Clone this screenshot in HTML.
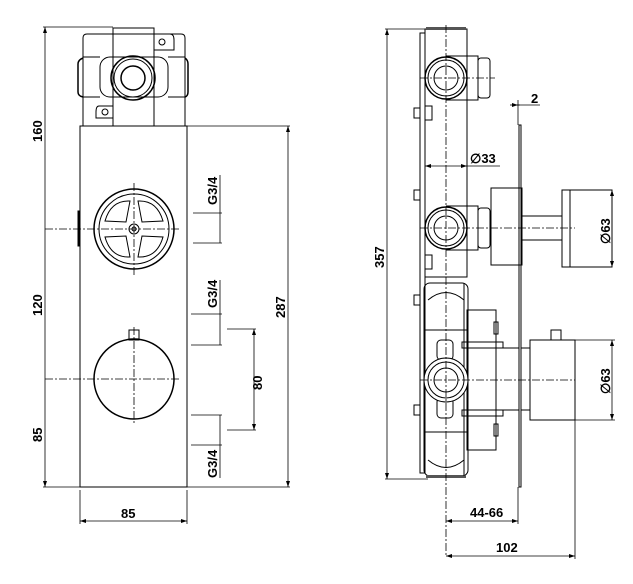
<!DOCTYPE html>
<html><head><style>html,body{margin:0;padding:0;background:#fff;}svg{display:block}</style></head>
<body>
<svg width="633" height="584" viewBox="0 0 633 584" xmlns="http://www.w3.org/2000/svg" font-family="Liberation Sans, sans-serif" font-weight="bold" font-size="13">
<g fill="none" stroke="#000" stroke-width="1">
<!-- LEFT VIEW -->
<rect x="80" y="126" width="107" height="361"/>
<path d="M83 126 V38 Q83 34 87 34 H181 Q185 34 185 38 V126"/>
<rect x="113" y="28" width="41" height="98"/>
<rect x="100" y="57" width="68" height="40" rx="10"/>
<path d="M83 58 Q78 60 78 64 V92 Q78 96 83 97" stroke-width="1.5"/>
<path d="M185 58 Q188 60 188 64 V92 Q188 96 185 97" stroke-width="1.5"/>
<line x1="83" y1="57" x2="100" y2="57"/><line x1="83" y1="97" x2="100" y2="97"/>
<line x1="168" y1="57" x2="185" y2="57"/><line x1="168" y1="97" x2="185" y2="97"/>
<circle cx="133" cy="78" r="22" stroke-width="1.5"/>
<circle cx="133" cy="78" r="19"/>
<circle cx="133" cy="78" r="12" stroke-width="1.5"/>
<path d="M154 34 H170 Q174 34 174 40 V50 H154"/><circle cx="162" cy="42" r="3"/>
<path d="M113 106 H99 Q96 106 96 112 V118 H113"/><circle cx="105" cy="112" r="3"/>
<!-- wheel -->
<circle cx="134" cy="229" r="40" stroke-width="1.5"/>
<circle cx="134" cy="229" r="35"/>
<circle cx="134" cy="229" r="5"/><circle cx="134" cy="229" r="2"/>
<path d="M138 201 Q157 200 163 221 L142 222 Z"/>
<path d="M130 201 Q111 200 105 221 L126 222 Z"/>
<path d="M138 257 Q157 258 163 237 L142 236 Z"/>
<path d="M130 257 Q111 258 105 237 L126 236 Z"/>
<rect x="78" y="211" width="2" height="35" fill="#000"/>
<circle cx="134" cy="379" r="40" stroke-width="1.5"/>
<rect x="129" y="330" width="10" height="10"/>
<g stroke-dasharray="8,2,2,2" stroke-width="0.8">
<line x1="45" y1="229" x2="180" y2="229"/><line x1="134" y1="183" x2="134" y2="275"/>
<line x1="45" y1="379" x2="180" y2="379"/><line x1="134" y1="327" x2="134" y2="425"/>
</g>
<g stroke-width="0.8">
<line x1="45" y1="27" x2="45" y2="487"/><line x1="43" y1="27" x2="113" y2="27"/>
<line x1="43" y1="487" x2="80" y2="487"/><line x1="187" y1="487" x2="290" y2="487"/>
<line x1="187" y1="126" x2="290" y2="126"/><line x1="288" y1="126" x2="288" y2="487"/>
<line x1="193" y1="213" x2="222" y2="213"/><line x1="193" y1="243" x2="222" y2="243"/><line x1="220" y1="175" x2="220" y2="243"/>
<line x1="191" y1="314" x2="222" y2="314"/><line x1="191" y1="345" x2="222" y2="345"/><line x1="220" y1="280" x2="220" y2="345"/>
<line x1="191" y1="415" x2="222" y2="415"/><line x1="191" y1="445" x2="222" y2="445"/><line x1="220" y1="415" x2="220" y2="478"/>
<line x1="227" y1="329" x2="256" y2="329"/><line x1="227" y1="430" x2="256" y2="430"/><line x1="254" y1="329" x2="254" y2="430"/>
<line x1="80" y1="490" x2="80" y2="524"/><line x1="187" y1="490" x2="187" y2="524"/><line x1="80" y1="521" x2="187" y2="521"/>
</g>
<!-- RIGHT VIEW -->
<line x1="387" y1="29" x2="387" y2="479" stroke-width="0.8"/>
<line x1="385" y1="29" x2="425" y2="29" stroke-width="0.8"/><line x1="385" y1="479" x2="428" y2="479" stroke-width="0.8"/>
<rect x="420" y="33" width="5" height="440"/>
<rect x="425" y="29" width="42" height="248"/>
<rect x="426" y="27" width="40" height="3" fill="#555" stroke="none"/>
<rect x="424" y="283" width="44" height="193" rx="6"/>
<rect x="426" y="475" width="40" height="3" fill="#555" stroke="none"/>
<path d="M428 300 Q446 285 464 300 M428 460 Q446 475 464 460"/>
<line x1="425" y1="330" x2="467" y2="330"/><line x1="425" y1="432" x2="467" y2="432"/>
<line x1="464" y1="283" x2="464" y2="476"/>
<rect x="467" y="310" width="29" height="140"/>
<rect x="462" y="342" width="41" height="6"/><rect x="462" y="410" width="41" height="6"/>
<rect x="494" y="322" width="4" height="12"/><rect x="494" y="424" width="4" height="12"/>
<rect x="437" y="340" width="16" height="20" rx="4"/><rect x="437" y="398" width="16" height="20" rx="4"/>
<line x1="496" y1="348" x2="519" y2="348"/><line x1="496" y1="410" x2="519" y2="410"/>
<path d="M446 56 H478 V100 H446"/><rect x="478" y="58" width="12" height="40" rx="3"/>
<path d="M446 206 H478 V250 H446"/><rect x="478" y="208" width="12" height="40" rx="3"/>
<circle cx="446" cy="78" r="21" stroke-width="1.5"/><circle cx="446" cy="78" r="18"/><circle cx="446" cy="78" r="12"/>
<circle cx="446" cy="228" r="21" stroke-width="1.5"/><circle cx="446" cy="228" r="18"/><circle cx="446" cy="228" r="12"/>
<circle cx="446" cy="380" r="22" fill="#fff"/><circle cx="446" cy="380" r="18"/><circle cx="446" cy="380" r="12"/>
<rect x="414" y="108" width="6" height="10"/><rect x="425" y="106" width="7" height="14"/>
<rect x="414" y="190" width="6" height="10"/><rect x="425" y="255" width="7" height="14"/>
<rect x="414" y="295" width="6" height="10"/><rect x="414" y="405" width="6" height="10"/>
<rect x="519" y="125" width="2" height="362"/>
<rect x="491" y="188" width="31" height="77"/>
<rect x="522" y="216" width="40" height="24"/>
<rect x="562" y="190" width="8" height="77"/>
<rect x="570" y="190" width="42" height="77"/>
<rect x="530" y="340" width="45" height="80"/>
<rect x="551" y="330" width="10" height="10"/>
<line x1="521" y1="348" x2="530" y2="348"/><line x1="521" y1="410" x2="530" y2="410"/>
<g stroke-dasharray="8,2,2,2" stroke-width="0.8">
<line x1="446" y1="25" x2="446" y2="555"/>
<line x1="420" y1="78" x2="495" y2="78"/><line x1="420" y1="228" x2="575" y2="228"/><line x1="420" y1="380" x2="575" y2="380"/>
</g>
<g stroke-width="0.8">
<line x1="425" y1="166" x2="500" y2="166"/>
<line x1="514" y1="105" x2="540" y2="105"/><line x1="510" y1="105" x2="520" y2="105"/><line x1="518" y1="100" x2="518" y2="125"/>
<line x1="612" y1="190" x2="612" y2="267"/><line x1="612" y1="340" x2="612" y2="420"/>
<line x1="575" y1="340" x2="615" y2="340"/><line x1="575" y1="420" x2="615" y2="420"/>
<line x1="518" y1="487" x2="518" y2="524"/><line x1="575" y1="420" x2="575" y2="559"/>
<line x1="446" y1="521" x2="518" y2="521"/><line x1="446" y1="556" x2="575" y2="556"/>
</g>
</g>
<g fill="#000">
<polygon points="45,27 43,33 47,33"/><polygon points="45,487 43,481 47,481"/>
<polygon points="288,126 286,132 290,132"/><polygon points="288,487 286,481 290,481"/>
<polygon points="80,521 86,519 86,523"/><polygon points="187,521 181,519 181,523"/>
<polygon points="254,329 252,335 256,335"/><polygon points="254,430 252,424 256,424"/>
<polygon points="387,29 385,35 389,35"/><polygon points="387,479 385,473 389,473"/>
<polygon points="425,166 431,164 431,168"/><polygon points="467,166 461,164 461,168"/>
<polygon points="612,190 610,196 614,196"/><polygon points="612,267 610,261 614,261"/>
<polygon points="612,340 610,346 614,346"/><polygon points="612,420 610,414 614,414"/>
<polygon points="446,521 452,519 452,523"/><polygon points="518,521 512,519 512,523"/>
<polygon points="446,556 452,554 452,558"/><polygon points="575,556 569,554 569,558"/>
<polygon points="518,105 512,103 512,107"/>
<text x="121" y="518">85</text>
<text x="470" y="517">44-66</text>
<text x="496" y="552">102</text>
<text x="531" y="103">2</text>
<text x="470" y="163">∅33</text>
<text transform="translate(42,142) rotate(-90)">160</text>
<text transform="translate(42,316) rotate(-90)">120</text>
<text transform="translate(42,442) rotate(-90)">85</text>
<text transform="translate(285,318) rotate(-90)">287</text>
<text transform="translate(384,268) rotate(-90)">357</text>
<text transform="translate(262,390) rotate(-90)">80</text>
<text transform="translate(217,205) rotate(-90)">G3/4</text>
<text transform="translate(217,308) rotate(-90)">G3/4</text>
<text transform="translate(217,478) rotate(-90)">G3/4</text>
<text transform="translate(610,244) rotate(-90)">∅63</text>
<text transform="translate(610,394) rotate(-90)">∅63</text>
</g>
</svg>
</body></html>
